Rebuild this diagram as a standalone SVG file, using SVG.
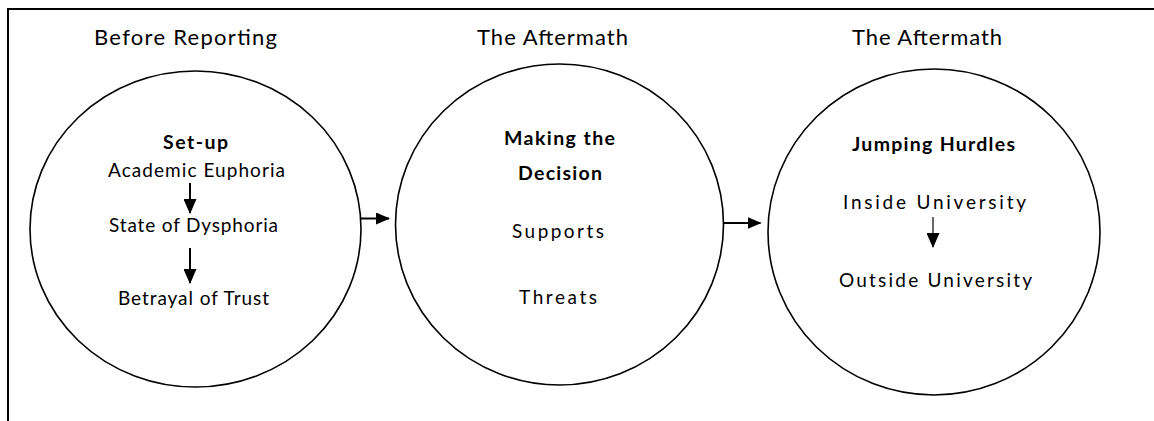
<svg xmlns="http://www.w3.org/2000/svg" width="1154" height="421" viewBox="0 0 1154 421">
  <style>
    .frame { fill: none; stroke: #000; stroke-width: 2; }
    .node { fill: #fff; stroke: #000; stroke-width: 1.6; }
    .t { font-family: Lato, "Open Sans", "Liberation Sans", sans-serif; fill: #000; text-anchor: middle; }
    .title { font-size: 22px; }
    .body { font-size: 19px; }
    .bold { font-size: 19.5px; font-weight: bold; }
    .conn { stroke: #000; stroke-width: 2; fill: none; }
    .thin { stroke: #000; stroke-width: 1.2; fill: none; }
  </style>
  <defs>
    <marker id="ah" viewBox="0 0 14 12" refX="13" refY="6" markerWidth="14" markerHeight="12" markerUnits="userSpaceOnUse" orient="auto">
      <path d="M0,0 L14,6 L0,12 Z" fill="#000"/>
    </marker>
    <marker id="ahs" viewBox="0 0 15 13" refX="14" refY="6.5" markerWidth="15" markerHeight="13" markerUnits="userSpaceOnUse" orient="auto">
      <path d="M0,0 L15,6.5 L0,13 Z" fill="#000"/>
    </marker>
  </defs>

  <g id="frame">
    <path class="frame" d="M8,421 L8,9 L1154,9"/>
  </g>

  <g id="headers">
    <text class="t title" x="185.5" y="45" textLength="183" lengthAdjust="spacing">Before Reporting</text>
    <text class="t title" x="552.5" y="45" textLength="151" lengthAdjust="spacing">The Aftermath</text>
    <text class="t title" x="927" y="45" textLength="150" lengthAdjust="spacing">The Aftermath</text>
  </g>

  <g id="node-setup">
    <ellipse class="node" cx="195.5" cy="229" rx="165.5" ry="158"/>
    <text class="t bold" x="195.5" y="149" textLength="65" lengthAdjust="spacing">Set-up</text>
    <text class="t body" x="196.5" y="177" textLength="177" lengthAdjust="spacing">Academic Euphoria</text>
    <text class="t body" x="193.5" y="232" textLength="169" lengthAdjust="spacing">State of Dysphoria</text>
    <text class="t body" x="193.5" y="305" textLength="151" lengthAdjust="spacing">Betrayal of Trust</text>
  </g>

  <g id="node-decision">
    <ellipse class="node" cx="559.5" cy="224.5" rx="164" ry="160.5"/>
    <text class="t bold" x="559.5" y="145" textLength="111" lengthAdjust="spacing">Making the</text>
    <text class="t bold" x="560" y="180" textLength="84" lengthAdjust="spacing">Decision</text>
    <text class="t body" x="558" y="238" textLength="92" lengthAdjust="spacing">Supports</text>
    <text class="t body" x="558" y="304" textLength="78" lengthAdjust="spacing">Threats</text>
  </g>

  <g id="node-hurdles">
    <ellipse class="node" cx="934" cy="232" rx="166" ry="163"/>
    <text class="t bold" x="933.5" y="151" textLength="163" lengthAdjust="spacing">Jumping Hurdles</text>
    <text class="t body" x="934.5" y="209" textLength="183" lengthAdjust="spacing">Inside University</text>
    <text class="t body" x="935.5" y="287" textLength="193" lengthAdjust="spacing">Outside University</text>
  </g>

  <g id="connectors">
    <line class="conn" x1="361" y1="218.5" x2="389" y2="218.5" marker-end="url(#ah)"/>
    <line class="conn" x1="723.5" y1="223" x2="760.5" y2="223" marker-end="url(#ah)"/>
    <line class="conn" x1="190" y1="183" x2="190" y2="213" marker-end="url(#ahs)"/>
    <line class="conn" x1="190" y1="248" x2="190" y2="283" marker-end="url(#ahs)"/>
    <line class="thin" x1="933" y1="217" x2="933" y2="247" marker-end="url(#ahs)"/>
  </g>
</svg>
